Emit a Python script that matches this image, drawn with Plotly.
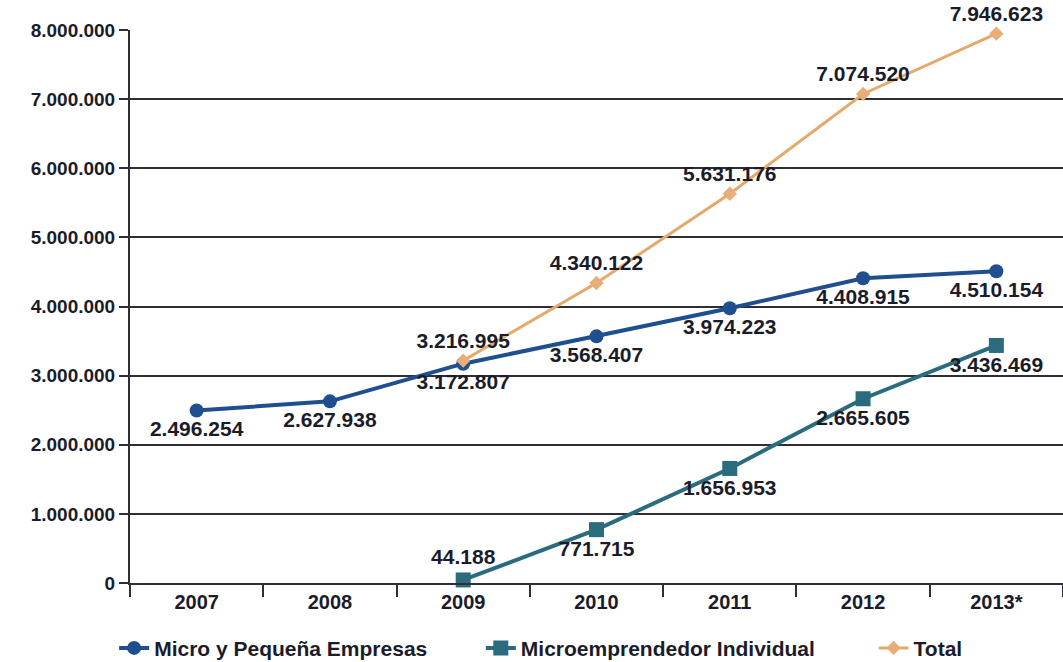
import plotly.graph_objects as go

years = ["2007", "2008", "2009", "2010", "2011", "2012", "2013*"]
micro = [2496254, 2627938, 3172807, 3568407, 3974223, 4408915, 4510154]
micro_years = years
microemp_years = ["2009", "2010", "2011", "2012", "2013*"]
microemp = [44188, 771715, 1656953, 2665605, 3436469]
total_years = ["2009", "2010", "2011", "2012", "2013*"]
total = [3216995, 4340122, 5631176, 7074520, 7946623]

def fmt(v):
    return f"{v:,}".replace(",", ".")

micro_pos = ["bottom center"] * 7
microemp_pos = ["top center", "bottom center", "bottom center", "bottom center", "bottom center"]
total_pos = ["top center"] * 5

ink = "#1b1c2a"
label_font = dict(family="Liberation Sans, Arial", size=21, color=ink, weight="bold")

fig = go.Figure()
fig.add_trace(go.Scatter(
    x=micro_years, y=micro, name="Micro y Pequeña Empresas",
    mode="lines+markers+text", text=[fmt(v) for v in micro], textposition=micro_pos,
    textfont=label_font, cliponaxis=False,
    line=dict(color="#1f4f8e", width=4),
    marker=dict(symbol="circle", size=14, color="#1f4f8e"),
    legend="legend",
))
fig.add_trace(go.Scatter(
    x=microemp_years, y=microemp, name="Microemprendedor Individual",
    mode="lines+markers+text", text=[fmt(v) for v in microemp], textposition=microemp_pos,
    textfont=label_font, cliponaxis=False,
    line=dict(color="#2a6b7e", width=4),
    marker=dict(symbol="square", size=15, color="#2a6b7e"),
    legend="legend2",
))
fig.add_trace(go.Scatter(
    x=total_years, y=total, name="Total",
    mode="lines+markers+text", text=[fmt(v) for v in total], textposition=total_pos,
    textfont=label_font, cliponaxis=False,
    line=dict(color="#e6a96c", width=3),
    marker=dict(symbol="diamond", size=11, color="#e8ad78"),
    legend="legend3",
))

legend_common = dict(orientation="h", yanchor="middle", y=-0.118, xanchor="left",
                     font=dict(family="Liberation Sans, Arial", size=21, color=ink, weight="bold"),
                     bgcolor="rgba(0,0,0,0)")

fig.update_layout(
    width=1063, height=662,
    margin=dict(l=130, r=0, t=30, b=79, autoexpand=False),
    paper_bgcolor="white", plot_bgcolor="white",
    separators=",.",
    showlegend=True,
    legend=dict(legend_common, x=-0.017),
    legend2=dict(legend_common, x=0.376),
    legend3=dict(legend_common, x=0.797),
    xaxis=dict(
        type="category", categoryorder="array", categoryarray=years,
        range=[-0.5, 6.5], automargin=False,
        showline=True, linecolor="#2e2e36", linewidth=2,
        showgrid=False, ticks="outside", tickson="boundaries", ticklen=12,
        tickcolor="#2e2e36", tickwidth=2,
        tickfont=dict(family="Liberation Sans, Arial", size=20, color=ink, weight="bold"),
    ),
    yaxis=dict(
        range=[0, 8000000], dtick=1000000, tickformat=",d", automargin=False,
        showline=True, linecolor="#2e2e36", linewidth=2,
        showgrid=True, gridcolor="#2e2e36", gridwidth=2,
        zeroline=True, zerolinecolor="#2e2e36", zerolinewidth=2,
        ticks="outside", ticklen=9, tickcolor="#2e2e36", tickwidth=2,
        tickfont=dict(family="Liberation Sans, Arial", size=19, color=ink, weight="bold"),
    ),
)

fig.write_html(
    "out.html",
    config={"displayModeBar": False},
    post_script="document.body.style.margin='0';document.body.style.overflow='hidden';",
)
